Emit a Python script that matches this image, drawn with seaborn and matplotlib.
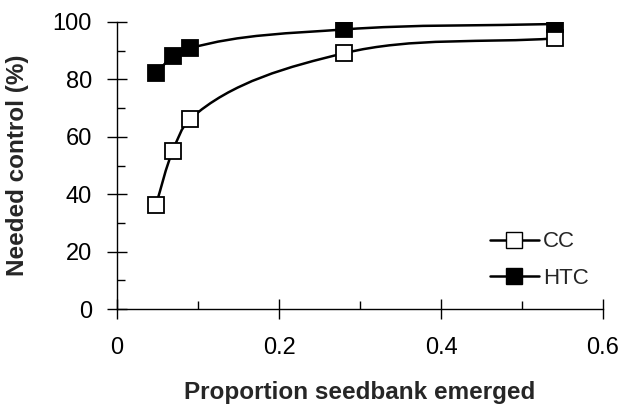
import numpy as np
import pandas as pd
import matplotlib
matplotlib.use("Agg")
import matplotlib.pyplot as plt
import seaborn as sns
from matplotlib.path import Path
from matplotlib.patches import PathPatch
from matplotlib.lines import Line2D
from matplotlib.ticker import FixedLocator

# Data
proportion_emerged = [0.048, 0.069, 0.090, 0.280, 0.541]
cc_values = [36.2, 55.2, 66.1, 89.1, 94.3]
htc_values = [82.1, 88.0, 90.8, 97.4, 99.3]
series_names = ["CC", "HTC"]
x_ticks = [0, 0.2, 0.4, 0.6]
x_tick_labels = ["0", "0.2", "0.4", "0.6"]
y_ticks = [0, 20, 40, 60, 80, 100]

sns.set_style("ticks")
plt.rcParams["font.family"] = ["Liberation Sans", "DejaVu Sans"]

fig = plt.figure(figsize=(6.27, 4.04), dpi=100)
ax = fig.add_axes([117 / 627, 1 - 309 / 404, (603 - 117) / 627, (309 - 22) / 404])
ax.set_xlim(0, 0.6)
ax.set_ylim(0, 100)

df = pd.DataFrame({
    "x": proportion_emerged * 2,
    "y": cc_values + htc_values,
    "series": ["CC"] * len(cc_values) + ["HTC"] * len(htc_values),
})

# scale factors so smoothing is done in (roughly) screen-proportional space
SX = 486 / 0.6
SY = 287 / 100.0


def smooth_path(xs, ys):
    pts = np.column_stack([np.array(xs) * SX, np.array(ys) * SY])
    n = len(pts)
    tangents = []
    for i in range(n):
        if i == 0:
            d = pts[1] - pts[0]
        elif i == n - 1:
            d = pts[-1] - pts[-2]
        else:
            a = pts[i] - pts[i - 1]
            b = pts[i + 1] - pts[i]
            d = a / np.linalg.norm(a) + b / np.linalg.norm(b)
        tangents.append(d / np.linalg.norm(d))
    verts = [pts[0]]
    codes = [Path.MOVETO]
    for i in range(n - 1):
        L = np.linalg.norm(pts[i + 1] - pts[i])
        c1 = pts[i] + tangents[i] * L / 3
        c2 = pts[i + 1] - tangents[i + 1] * L / 3
        verts += [c1, c2, pts[i + 1]]
        codes += [Path.CURVE4] * 3
    verts = np.array(verts) / np.array([SX, SY])
    return Path(verts, codes)


for name, vals in [("CC", cc_values), ("HTC", htc_values)]:
    patch = PathPatch(smooth_path(proportion_emerged, vals), facecolor="none",
                      edgecolor="black", lw=1.8, zorder=2)
    ax.add_patch(patch)

sub = df[df.series == "CC"]
sns.lineplot(data=sub, x="x", y="y", ax=ax, marker="s", markersize=11,
             markerfacecolor="white", markeredgecolor="black", markeredgewidth=1.3,
             linewidth=0, color="black", zorder=3, legend=False)
sub = df[df.series == "HTC"]
sns.lineplot(data=sub, x="x", y="y", ax=ax, marker="s", markersize=11,
             markerfacecolor="black", markeredgecolor="black", markeredgewidth=1.3,
             linewidth=0, color="black", zorder=3, legend=False)

ax.set_xlim(0, 0.6)
ax.set_ylim(0, 100)
ax.xaxis.set_major_locator(FixedLocator(x_ticks))
ax.set_xticklabels(x_tick_labels)
ax.xaxis.set_minor_locator(FixedLocator([0.1, 0.3, 0.5]))
ax.yaxis.set_major_locator(FixedLocator(y_ticks))
ax.yaxis.set_minor_locator(FixedLocator([10, 30, 50, 70, 90]))
ax.tick_params(axis="both", which="major", direction="inout", length=14, width=1,
               color="black", labelsize=17, labelcolor="black")
ax.tick_params(axis="both", which="minor", direction="in", length=6, width=1, color="black")
ax.tick_params(axis="x", which="major", pad=13)
ax.tick_params(axis="y", which="major", pad=11)
ax.set_xlabel("Proportion seedbank emerged", fontsize=17.5, fontweight="bold", labelpad=16)
ax.set_ylabel("Needed control (%)", fontsize=17.5, fontweight="bold", labelpad=17)
for s in ["top", "right"]:
    ax.spines[s].set_visible(False)
for s in ["left", "bottom"]:
    ax.spines[s].set_color("black")
    ax.spines[s].set_linewidth(1)
ax.set_facecolor("white")

handles = [
    Line2D([0], [0], color="black", lw=1.8, marker="s", markersize=12,
           markerfacecolor="white", markeredgecolor="black"),
    Line2D([0], [0], color="black", lw=1.8, marker="s", markersize=12,
           markerfacecolor="black", markeredgecolor="black"),
]
ax.legend(handles, series_names, loc="lower right", bbox_to_anchor=(1.012, 0.0),
          frameon=False, fontsize=16, handlelength=2.2, handletextpad=0.2,
          labelspacing=0.7)

fig.savefig("out.png", dpi=100, facecolor="white")
